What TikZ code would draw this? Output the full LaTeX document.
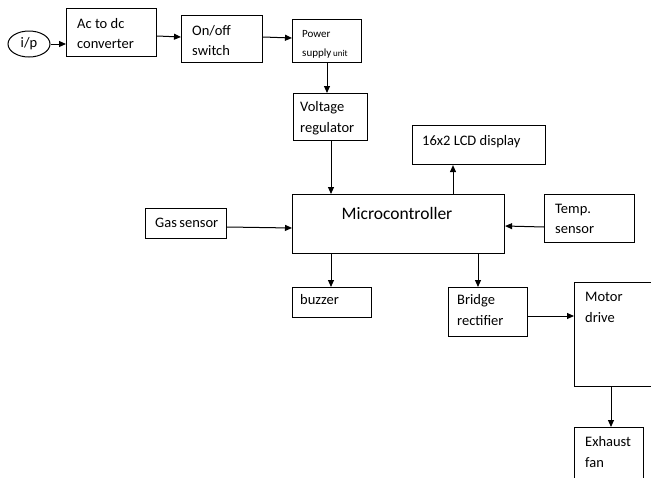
\documentclass[tikz,border=0pt]{standalone}
\usepackage{fontspec}
\setmainfont{Carlito}
\usetikzlibrary{arrows.meta,shapes.geometric}
\begin{document}
\begin{tikzpicture}[x=1pt,y=-1pt,
  box/.style={draw, line width=1.1pt, inner sep=0pt, anchor=north west},
  lbl/.style={anchor=base west, inner sep=0pt, font=\fontsize{14.5}{16}\selectfont},
  small/.style={anchor=base west, inner sep=0pt, font=\fontsize{11}{12}\selectfont},
  arr/.style={-{Triangle[length=7pt,width=6pt]}, line width=1pt}]
\useasboundingbox (0,0) rectangle (651,477);
% boxes
\node[draw, ellipse, line width=1pt, minimum width=42pt, minimum height=26pt, inner sep=0pt, font=\fontsize{14.5}{16}\selectfont] (ip) at (29,44) {i/p};
\node[box, minimum width=90pt, minimum height=48pt] (ac) at (66,8) {};
\node[box, minimum width=81pt, minimum height=47pt] (onoff) at (181,15) {};
\node[box, minimum width=69pt, minimum height=43pt] (psu) at (292,19) {};
\node[box, minimum width=74pt, minimum height=47pt] (vr) at (293,93) {};
\node[box, minimum width=133pt, minimum height=39pt] (lcd) at (412,125) {};
\node[box, minimum width=212pt, minimum height=59pt] (mc) at (292,194) {};
\node[box, minimum width=81pt, minimum height=30pt] (gas) at (145,208) {};
\node[box, minimum width=90pt, minimum height=48pt] (temp) at (544,194) {};
\node[box, minimum width=79pt, minimum height=30pt] (buz) at (292,287) {};
\node[box, minimum width=79pt, minimum height=49pt] (br) at (448,287) {};
\node[box, minimum width=90pt, minimum height=104pt] (mot) at (574,282) {};
\node[box, minimum width=69pt, minimum height=70pt] (exh) at (574,427) {};
% labels
\node[lbl] (ac1) at (77,28) {Ac to dc};
\node[lbl] (ac2) at (77,48) {converter};
\node[lbl] (on1) at (192,35) {On/off};
\node[lbl] (on2) at (192,55) {switch};
\node[small] (ps1) at (302,37) {Power};
\node[small] (ps2) at (302,56) {supply\,{\fontsize{9}{10}\selectfont unit}};
\node[lbl] (vr1) at (300,111) {Voltage};
\node[lbl] (vr2) at (300,132) {regulator};
\node[lbl] (lc1) at (422,145) {16x2 LCD display};
\node[anchor=base, inner sep=0pt, font=\fontsize{17.5}{20}\selectfont] (mc1) at (397,219) {Microcontroller};
\node[lbl] (gs1) at (155,227) {Gas\,sensor};
\node[lbl] (tp1) at (555,213) {Temp.};
\node[lbl] (tp2) at (555,233) {sensor};
\node[lbl] (bz1) at (300,304) {buzzer};
\node[lbl] (br1) at (457,304) {Bridge};
\node[lbl] (br2) at (457,325) {rectifier};
\node[lbl] (mo1) at (585,301) {Motor};
\node[lbl] (mo2) at (585,322) {drive};
\node[lbl] (ex1) at (585,446) {Exhaust};
\node[lbl] (ex2) at (585,467) {fan};
% connectors
\draw[arr] (ip.east) -- (ac.west |- ip.east);
\draw[arr] (ac.east |- 0,36) -- (onoff.west |- 0,37);
\draw[arr] (onoff.east |- 0,37) -- (psu.west |- 0,38);
\draw[arr] (327,0 |- psu.south) -- (327,0 |- vr.north);
\draw[arr] (331,0 |- vr.south) -- (331,0 |- mc.north);
\draw[arr] (453,0 |- mc.north) -- (453,0 |- lcd.south);
\draw[arr] (gas.east |- 0,227) -- (mc.west |- 0,228);
\draw[arr] (temp.west |- 0,227) -- (mc.east |- 0,226);
\draw[arr] (331,0 |- mc.south) -- (331,0 |- buz.north);
\draw[arr] (478,0 |- mc.south) -- (478,0 |- br.north);
\draw[arr] (br.east |- 0,316) -- (mot.west |- 0,316);
\draw[arr] (611,0 |- mot.south) -- (611,0 |- exh.north);
\end{tikzpicture}
\end{document}
